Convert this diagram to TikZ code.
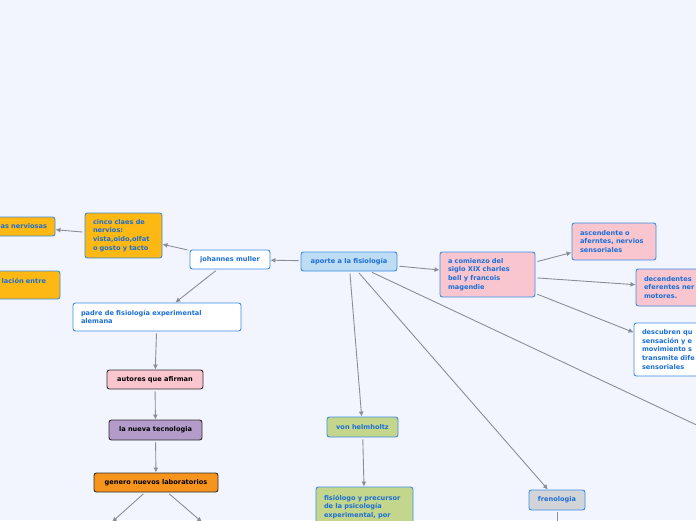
\documentclass[tikz,border=0pt]{standalone}
\usepackage{fontspec}
\setmainfont{DejaVu Sans}
\usetikzlibrary{arrows.meta}
\definecolor{bg}{HTML}{F2F5FE}
\definecolor{bord}{HTML}{3A8DE2}
\definecolor{tblue}{HTML}{1B6FD6}
\definecolor{dark}{HTML}{2E2E2E}
\definecolor{lgrey}{HTML}{8A8E98}
\definecolor{cblue}{HTML}{BEDCF3}
\definecolor{corange}{HTML}{FDB813}
\definecolor{cpink}{HTML}{F9C6D0}
\definecolor{cpurple}{HTML}{B39CC9}
\definecolor{cdorange}{HTML}{F7941E}
\definecolor{cgreen}{HTML}{C4D68C}
\definecolor{cgrey}{HTML}{D3D4DA}
\begin{document}
\begin{tikzpicture}[x=1pt,y=-1pt,
  box/.style={draw=bord, line width=0.9pt, rounded corners=2.5pt, inner sep=0pt, text=tblue,
    font=\fontsize{6.6}{8.7}\selectfont\bfseries},
  lbox/.style={box, align=left},
  cbox/.style={box, align=center},
  dbox/.style={box, align=center, draw=dark, text=black},
  conn/.style={draw=lgrey, line width=0.9pt, -{Latex[length=5pt,width=5pt]}, shorten <=2pt}]
\fill[bg] (0,0) rectangle (696,520);
\useasboundingbox (0,0) rectangle (696,520);
\clip (0,0) rectangle (696,520);

% nodes
\node[cbox, fill=cblue, minimum width=96pt, minimum height=19pt] (aporte) at (349,261.5) {aporte a la fisiología};
\node[cbox, fill=white, minimum width=80pt, minimum height=19pt] (johannes) at (230,259.5) {johannes muller};
\node[lbox, fill=corange, minimum width=77pt, minimum height=45pt, text width=61pt] (cinco) at (123.5,235.5) {cinco claes de\\nervios:\\vista,oido,olfat\\o gosto y tacto};
\node[box, align=right, fill=corange, minimum width=75pt, minimum height=19pt, text width=59pt] (nerv) at (17.5,226.5) {as nerviosas};
\node[box, align=right, fill=corange, minimum width=80pt, minimum height=28pt, text width=52pt] (relac) at (20,285) {lación entre\\~};
\node[lbox, fill=white, minimum width=168pt, minimum height=28pt, text width=152pt] (padre) at (157,317) {padre de fisiología experimental\\alemana};
\node[dbox, fill=cpink, minimum width=96pt, minimum height=19pt] (autores) at (155,379.5) {autores que afirman};
\node[dbox, fill=cpurple, minimum width=93pt, minimum height=20pt] (nueva) at (155.5,430) {la nueva tecnologia};
\node[dbox, fill=cdorange, minimum width=124pt, minimum height=19pt] (genero) at (156,482.5) {genero nuevos laboratorios};
\node[lbox, fill=cpink, minimum width=95pt, minimum height=45pt, text width=79pt] (comienzo) at (487.5,274.5) {a comienzo del\\siglo XIX charles\\bell y francois\\magendie};
\node[lbox, fill=cpink, minimum width=84pt, minimum height=37pt, text width=68pt] (ascend) at (614,241.5) {ascendente o\\aferntes, nervios\\sensoriales};
\node[lbox, fill=cpink, minimum width=80pt, minimum height=37pt, text width=64pt] (descend) at (676,287.5) {decendentes\\eferentes ner\\motores.};
\node[lbox, fill=white, minimum width=86pt, minimum height=53pt, text width=70pt] (descub) at (677,349.5) {descubren qu\\sensación y e\\movimiento s\\transmite dife\\sensoriales};
\node[cbox, fill=cgreen, minimum width=71pt, minimum height=20pt] (von) at (362.5,427) {von helmholtz};
\node[lbox, fill=cgreen, minimum width=97pt, minimum height=40pt, text width=81pt] (fisio) at (364.5,507) {fisiólogo y precursor\\de la psicología\\experimental, por};
\node[cbox, fill=cgrey, minimum width=56pt, minimum height=20pt] (freno) at (557,500) {frenologia};

% free ends
\coordinate (g1) at (112,522);
\coordinate (g2) at (202,522);
\coordinate (fr) at (557,540);
\coordinate (offr) at (720,436);

% connectors
\draw[conn] (aporte) -- (johannes);
\draw[conn] (johannes) -- (cinco);
\draw[conn] (cinco) -- (nerv);
\draw[conn] (johannes) -- (padre);
\draw[conn] (padre) -- (autores);
\draw[conn] (autores) -- (nueva);
\draw[conn] (nueva) -- (genero);
\draw[conn] (genero) -- (g1);
\draw[conn] (genero) -- (g2);
\draw[conn] (aporte) -- (comienzo);
\draw[conn] (comienzo) -- (ascend);
\draw[conn] (comienzo) -- (descend);
\draw[conn] (comienzo) -- (descub);
\draw[conn] (aporte) -- (von);
\draw[conn] (aporte) -- (freno);
\draw[conn] (aporte) -- (offr);
\draw[conn] (von) -- (fisio);
\draw[conn] (freno) -- (fr);
\end{tikzpicture}
\end{document}
